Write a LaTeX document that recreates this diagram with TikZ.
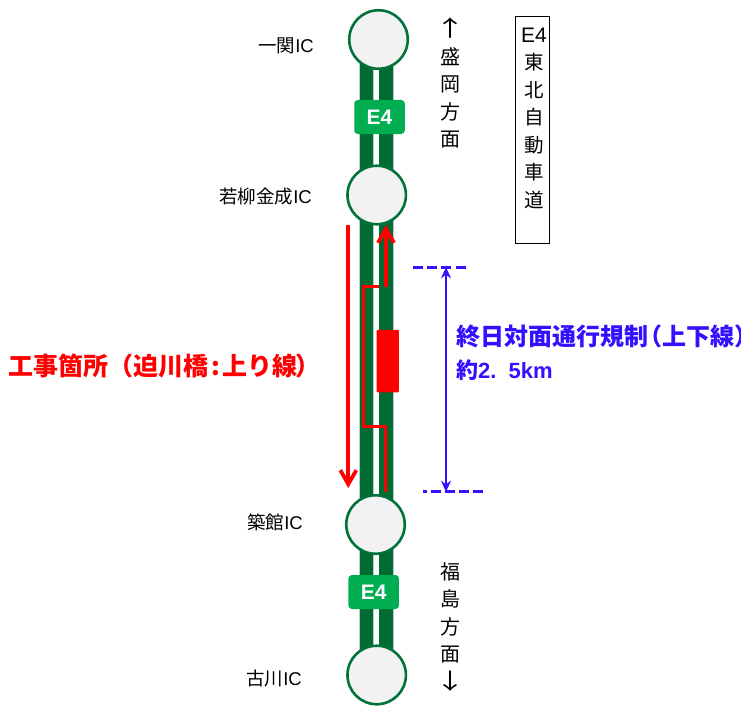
\documentclass[tikz,border=0pt]{standalone}
\usepackage{fontspec}
\setmainfont{Noto Sans CJK JP}
\newfontfamily\latinfont{Liberation Sans}
\usetikzlibrary{arrows.meta}
\definecolor{lanegreen}{HTML}{006B33}
\definecolor{ringgreen}{HTML}{00723A}
\definecolor{signgreen}{HTML}{00AD50}
\definecolor{discfill}{HTML}{F2F2F2}
\definecolor{bluemark}{HTML}{3311FF}
\tikzset{
  lanehalo/.style={draw=lanegreen!30,line width=15pt},
  lane/.style={draw=lanegreen,line width=13.5pt},
  icdisc/.style={circle,draw=ringgreen,fill=discfill,line width=2.6pt,minimum size=58.5pt,inner sep=0pt},
  sign/.style={rounded corners=3.5pt,fill=signgreen,text=white,minimum width=50.5pt,minimum height=34pt,inner sep=0pt,font=\fontsize{21}{21}\bfseries\latinfont},
  iclabel/.style={inner sep=0pt,font=\fontsize{18.5}{18.5}\selectfont},
  vtext/.style={inner sep=0pt,align=center,font=\fontsize{20}{27.5}\selectfont},
  redline/.style={draw=red,line width=3.8pt},
  redarrow/.style={redline,-{Straight Barb[length=14pt,width=16pt,line width=3.8pt]}},
  bluedash/.style={draw=bluemark,line width=2.8pt,dash pattern=on 10pt off 4.2pt},
  bluearrow/.style={draw=bluemark,line width=2.8pt,{Stealth[length=11pt,width=10pt]}-{Stealth[length=11pt,width=10pt]}},
  bluetext/.style={text=bluemark,inner sep=0pt,anchor=west,font=\fontsize{24}{24}\bfseries},
}
\newcommand{\ic}{{\latinfont IC}}
\newcommand{\uparr}{\scalebox{1.5}[1.1]{↑}}
\newcommand{\downarr}{\scalebox{1.5}[1.1]{↓}}
\begin{document}
\begin{tikzpicture}[x=1pt,y=-1pt]
\useasboundingbox (0,0) rectangle (741,706);
% road
\coordinate (ltop) at (366.7,40);
\coordinate (lbot) at (366.7,680);
\coordinate (rtop) at (386,40);
\coordinate (rbot) at (386,680);
\draw[lanehalo] (ltop) -- (lbot);
\draw[lanehalo] (rtop) -- (rbot);
\draw[lane] (ltop) -- (lbot);
\draw[lane] (rtop) -- (rbot);
% interchanges
\node[icdisc] (ic1) at (378.5,39.5) {};
\node[icdisc] (ic2) at (376.7,195) {};
\node[icdisc] (ic3) at (375.5,524.5) {};
\node[icdisc] (ic4) at (376.7,675) {};
\node[sign] (sign1) at (379.5,117) {E4};
\node[sign] (sign2) at (373.7,592) {E4};
% labels
\node[iclabel,anchor=east] (l1) at (314,46) {一関\ic};
\node[iclabel,anchor=east] (l2) at (312,197) {若柳金成\ic};
\node[iclabel,anchor=east] (l3) at (303,522) {築館\ic};
\node[iclabel,anchor=east] (l4) at (302,679) {古川\ic};
\node[vtext] (north) at (450.5,83.5) {\uparr\\盛\\岡\\方\\面};
\node[vtext] (south) at (450,627) {福\\島\\方\\面\\\downarr};
\node[draw=black,line width=0.9pt,minimum width=33.5pt,minimum height=227pt,inner sep=0pt] (roadname) at (532.5,129.5) {};
\node[inner sep=0pt,align=center,font=\fontsize{19.5}{27.5}\selectfont] (roadtext) at (534,118) {{\latinfont\fontsize{21}{27.5}\selectfont E4}\\東\\北\\自\\動\\車\\道};
% works
\node[fill=red,rounded corners=1pt,minimum width=22.3pt,minimum height=62.5pt,inner sep=0pt] (works) at (387.8,361) {};
\coordinate (downstart) at (348.3,225);
\coordinate (downend) at (348.3,488);
\draw[redarrow] (downstart) -- (downend);
\coordinate (upstart) at (386,287);
\coordinate (upend) at (386,225);
\draw[redarrow] (upstart) -- (upend);
\coordinate (divstart) at (385.3,492);
\coordinate (divend) at (378.5,286.7);
\draw[redline,line width=3.4pt,miter limit=10] (divstart) -- (385.3,426.7) -- (363.5,426.7) -- (363.5,286.7) -- (divend);
% extent
\coordinate (t1) at (413,267.3);
\coordinate (t2) at (469,267.3);
\coordinate (b1) at (422.5,491.7);
\coordinate (b2) at (486,491.7);
\draw[bluedash] (t1) -- (t2);
\draw[bluedash,dash phase=6pt] (b1) -- (b2);
\coordinate (at) at (446,267.3);
\coordinate (ab) at (446,491.7);
\draw[bluearrow] (at) -- (ab);
% captions
\node[text=red,inner sep=0pt,anchor=west,font=\fontsize{25}{25}\bfseries] (redcap) at (8,366) {工事箇所（迫川橋\hspace{3pt}:\hspace{3pt}上り線\hspace{-2pt}）};
\node[bluetext] (bluecap) at (456,336) {終日対面通行規制\hspace{-10pt}（上下線）};
\node[bluetext] (bluecap2) at (456,370) {{\fontsize{22}{22}\bfseries\selectfont 約}{\latinfont\fontsize{22}{22}\bfseries\selectfont 2.\hspace{12pt}5km}};
\end{tikzpicture}
\end{document}
